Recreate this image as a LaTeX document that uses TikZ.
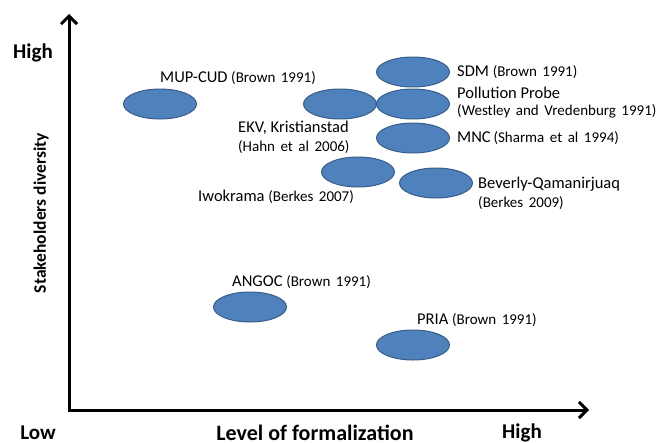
\documentclass[tikz,border=0pt]{standalone}
\usepackage{fontspec}
\setmainfont{Carlito}
\usetikzlibrary{arrows.meta,shapes.geometric}
\definecolor{blobfill}{RGB}{79,129,189}
\definecolor{blobline}{RGB}{56,93,138}
\tikzset{
  blob/.style={ellipse, draw=blobline, fill=blobfill, line width=1pt, minimum width=73pt, minimum height=30pt, inner sep=0pt},
  lbl/.style={anchor=west, inner sep=0pt, font=\fontsize{16.5}{18}\selectfont},
  axlbl/.style={inner sep=0pt, font=\fontsize{21}{24}\selectfont\bfseries},
  axis/.style={line width=3pt, -{Straight Barb[length=8pt, width=16pt, line width=3pt]}}
}
\newcommand{\refsm}[1]{{\fontsize{15}{17}\selectfont\spaceskip=5.5pt plus 1pt\relax #1}}
\begin{document}
\begin{tikzpicture}[x=1pt, y=-1pt]
\useasboundingbox (0,0) rectangle (660,442);
% axes
\coordinate (origin) at (69,410);
\coordinate (ytip) at (69,14);
\coordinate (xtip) at (589,410);
\draw[axis, line cap=rect] (origin) -- (ytip);
\draw[axis, line cap=rect] (origin) -- (xtip);
% axis labels
\node[axlbl] (yhigh) at (33,53) {High};
\node[axlbl] (ylow) at (38,433) {Low};
\node[axlbl, font=\fontsize{22}{25}\selectfont\bfseries] (xtitle) at (315,433) {Level of formalization};
\node[axlbl] (xhigh) at (522,433) {High};
\node[axlbl, rotate=90, font=\fontsize{17.5}{20}\selectfont\bfseries] (ytitle) at (41,213) {Stakeholders diversity};
% ellipses
\node[blob] (mup) at (160,104) {};
\node[blob] (ekv) at (340,104) {};
\node[blob] (pp) at (413,104) {};
\node[blob] (sdm) at (413,72) {};
\node[blob] (mnc) at (413,138) {};
\node[blob] (iwo) at (358,172) {};
\node[blob] (bev) at (436,183) {};
\node[blob] (ang) at (250,307) {};
\node[blob] (pria) at (413,345) {};
% labels
\node[lbl] (tmup) at (160,78) {MUP-CUD \refsm{(Brown 1991)}};
\node[lbl] (tekv) at (238,128) {EKV, Kristianstad};
\node[lbl] (tekv2) at (238,147) {\refsm{(Hahn et al 2006)}};
\node[lbl] (tsdm) at (457,72) {SDM \refsm{(Brown 1991)}};
\node[lbl] (tpp) at (457,93) {Pollution Probe};
\node[lbl] (tpp2) at (457,111) {\refsm{(Westley and Vredenburg 1991)}};
\node[lbl] (tmnc) at (457,138) {MNC\,\refsm{(Sharma et al 1994)}};
\node[lbl] (tbev) at (478,184) {Beverly-Qamanirjuaq};
\node[lbl] (tbev2) at (478,203) {\refsm{(Berkes 2009)}};
\node[lbl] (tiwo) at (198,197) {Iwokrama \refsm{(Berkes 2007)}};
\node[lbl] (tang) at (232,282) {ANGOC \refsm{(Brown 1991)}};
\node[lbl] (tpria) at (417,320) {PRIA \refsm{(Brown 1991)}};
\end{tikzpicture}
\end{document}
